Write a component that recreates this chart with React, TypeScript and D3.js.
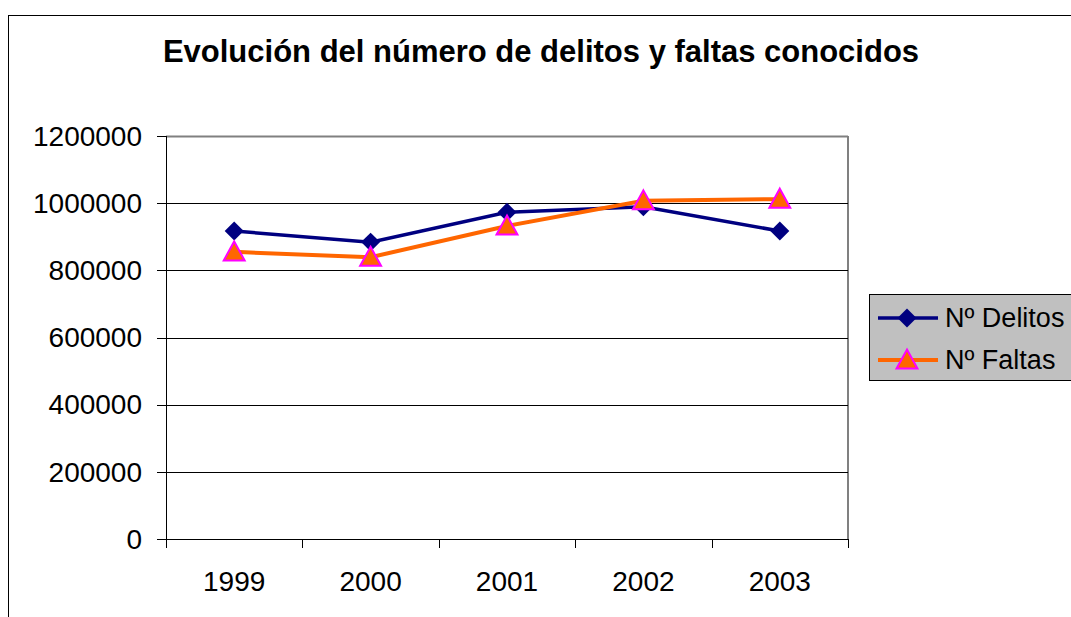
import React from "react";
import * as d3 from "d3";

const years = ["1999", "2000", "2001", "2002", "2003"];
const delitos = [917000, 884000, 973000, 989000, 917000];
const faltas = [855000, 839000, 932000, 1007000, 1012000];
const yTicks = [0, 200000, 400000, 600000, 800000, 1000000, 1200000];

const W = 1071;
const H = 617;
const plot = { left: 166, right: 848, top: 136, bottom: 539 };
const font = "Arial, 'Liberation Sans', sans-serif";

const App = () => {
  const x = d3.scaleBand().domain(years).range([plot.left, plot.right]);
  const y = d3.scaleLinear().domain([0, 1200000]).range([plot.bottom, plot.top]);
  const cx = (d: string) => (x(d) as number) + x.bandwidth() / 2;

  const line = d3
    .line<number>()
    .x((_, i) => cx(years[i]))
    .y((v) => y(v));

  const diamond = d3.symbol().type(d3.symbolDiamond2).size(230);
  const triangle = (s: number) => `M0,${-s * 0.55}L${s * 0.55},${s * 0.45}L${-s * 0.55},${s * 0.45}Z`;

  const ticksX = years.map((d) => x(d) as number).concat([plot.right]);

  return (
    <svg
      width={W}
      height={H}
      style={{ position: "absolute", left: 0, top: 0, background: "#fff" }}
      fontFamily={font}
    >
      {/* outer chart border */}
      <rect x={8.5} y={15.5} width={W + 20} height={H + 20} fill="#fff" stroke="#000" strokeWidth={1} />

      <text x={541} y={62} textAnchor="middle" fontSize={31} fontWeight="bold" fill="#000">
        Evolución del número de delitos y faltas conocidos
      </text>

      {/* plot frame */}
      <line x1={plot.left} x2={plot.right} y1={plot.top + 0.5} y2={plot.top + 0.5} stroke="#808080" strokeWidth={2} />
      <line x1={plot.right} x2={plot.right} y1={plot.top} y2={plot.bottom} stroke="#808080" strokeWidth={2} />

      {/* gridlines + y axis */}
      {yTicks.map((t) => (
        <g key={t}>
          {t > 0 && t < 1200000 && (
            <line x1={plot.left} x2={plot.right} y1={Math.round(y(t)) + 0.5} y2={Math.round(y(t)) + 0.5} stroke="#000" />
          )}
          <line x1={157} x2={plot.left} y1={Math.round(y(t)) + 0.5} y2={Math.round(y(t)) + 0.5} stroke="#000" />
          <text x={142} y={y(t)} dy="0.35em" textAnchor="end" fontSize={28} fill="#000">
            {t}
          </text>
        </g>
      ))}
      <line x1={plot.left + 0.5} x2={plot.left + 0.5} y1={plot.top} y2={plot.bottom} stroke="#000" />
      <line x1={plot.left} x2={plot.right} y1={plot.bottom + 0.5} y2={plot.bottom + 0.5} stroke="#000" />

      {/* x axis */}
      {ticksX.map((t, i) => (
        <line key={i} x1={Math.round(t) + 0.5} x2={Math.round(t) + 0.5} y1={plot.bottom} y2={548} stroke="#000" />
      ))}
      {years.map((d) => (
        <text key={d} x={cx(d)} y={591} textAnchor="middle" fontSize={28} fill="#000">
          {d}
        </text>
      ))}

      {/* series */}
      <path d={line(delitos) ?? ""} fill="none" stroke="#000080" strokeWidth={3.5} />
      <path d={line(faltas) ?? ""} fill="none" stroke="#FF6600" strokeWidth={4} />
      {delitos.map((v, i) => (
        <path key={"d" + i} d={diamond() ?? ""} transform={`translate(${cx(years[i])},${y(v)})`} fill="#000080" />
      ))}
      {faltas.map((v, i) => (
        <path
          key={"f" + i}
          d={triangle(19)}
          transform={`translate(${cx(years[i])},${y(v)})`}
          fill="#FF6600"
          stroke="#FF00FF"
          strokeWidth={2}
        />
      ))}

      {/* legend */}
      <rect x={869.5} y={294.5} width={220} height={86} fill="#C0C0C0" stroke="#000" strokeWidth={1} />
      <line x1={878} x2={938} y1={318} y2={318} stroke="#000080" strokeWidth={3.5} />
      <path d={diamond() ?? ""} transform="translate(907,318)" fill="#000080" />
      <text x={945} y={318} dy="0.35em" fontSize={27} fill="#000">
        Nº Delitos
      </text>
      <line x1={878} x2={938} y1={360} y2={360} stroke="#FF6600" strokeWidth={4} />
      <path d={triangle(19)} transform="translate(907,360)" fill="#FF6600" stroke="#FF00FF" strokeWidth={2} />
      <text x={945} y={360} dy="0.35em" fontSize={27} fill="#000">
        Nº Faltas
      </text>
    </svg>
  );
};

export default App;
